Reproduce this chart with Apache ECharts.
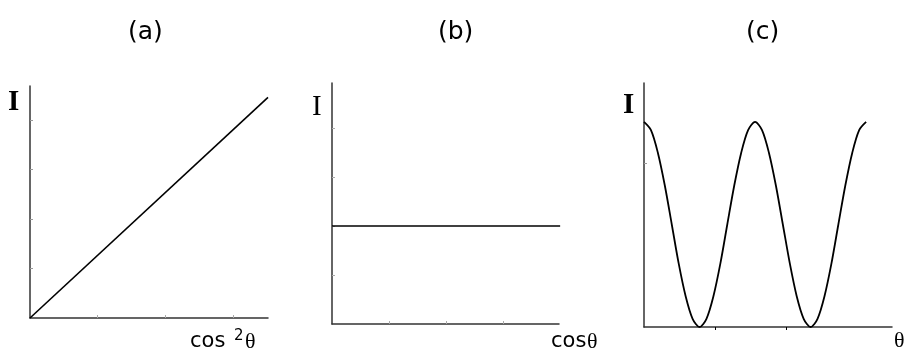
<!DOCTYPE html>
<html>
<head>
<meta charset="utf-8">
<script src="https://cdn.jsdelivr.net/npm/echarts@6/dist/echarts.min.js"></script>
<style>
  html, body { margin: 0; padding: 0; background: #fff; }
  #charts { width: 907px; height: 356px; }
</style>
</head>
<body>
<div id="charts"></div>
<script>
// (a) I ~ cos^2 theta: straight line from origin
var aX = [0, 3.52];
var aY = [0, 4.46];

// (b) I constant vs cos theta
var bX = [0, 4];
var bY = [2, 2];

// (c) I vs theta, two full periods
var cX = [0, 0.098, 0.195, 0.293, 0.391, 0.488, 0.586, 0.684, 0.782,
          0.879, 0.977, 1.075, 1.172, 1.270, 1.368, 1.465, 1.563,
          1.661, 1.758, 1.856, 1.954, 2.052, 2.149, 2.247, 2.345,
          2.442, 2.540, 2.638, 2.735, 2.833, 2.931, 3.028, 3.126];
var cY = [1, 0.96, 0.85, 0.69, 0.5, 0.31, 0.15, 0.04, 0,
          0.04, 0.15, 0.31, 0.5, 0.69, 0.85, 0.96, 1,
          0.96, 0.85, 0.69, 0.5, 0.31, 0.15, 0.04, 0,
          0.04, 0.15, 0.31, 0.5, 0.69, 0.85, 0.96, 1];

// tick marks
var aXTicks = [1, 2, 3];
var aYTicks = [1, 2, 3, 4];
var bXTicks = [1, 2, 3];
var bYTicks = [1, 2, 3, 4];
var cXTicks = [1, 2];
var cYTicks = [0.8];

function pairs(xs, ys) {
	var out = [];
	for (var i = 0; i < xs.length; i++) {
		out.push([xs[i], ys[i]]);
	}
	return out;
}

// 坐标轴公共样式
function axis(gridIndex, max, ticks, tickColor, inside) {
	return {
		type: 'value',
		gridIndex: gridIndex,
		min: 0,
		max: max,
		splitLine: { show: false },
		axisLabel: { show: false },
		axisLine: { show: true, onZero: false, lineStyle: { color: '#333', width: 1.5 } },
		axisTick: {
			show: true,
			inside: inside,
			length: 3,
			customValues: ticks,
			lineStyle: { color: tickColor, width: 1 }
		}
	};
}

var sans = '"DejaVu Sans", sans-serif';
var serif = '"Liberation Serif", "DejaVu Serif", serif';

function txt(x, y, s, size, family, weight) {
	return {
		type: 'text',
		x: x,
		y: y,
		style: {
			text: s,
			fill: '#000',
			fontSize: size,
			fontFamily: family,
			fontWeight: weight || 'normal',
			align: 'left',
			verticalAlign: 'middle'
		}
	};
}

var myChart = echarts.init(document.getElementById('charts'), null, { renderer: 'canvas' });

var option = {
	animation: false,
	backgroundColor: '#fff',
	grid: [
		{ left: 30, top: 86, width: 238, height: 232 },
		{ left: 332, top: 83, width: 227, height: 241 },
		{ left: 644, top: 83, width: 248, height: 244 }
	],
	xAxis: [
		axis(0, 3.52, aXTicks, '#aaa', true),
		axis(1, 3.98, bXTicks, '#aaa', true),
		axis(2, 3.49, cXTicks, '#000', false)
	],
	yAxis: [
		axis(0, 4.69, aYTicks, '#999', true),
		axis(1, 4.92, bYTicks, '#aaa', true),
		axis(2, 1.19, cYTicks, '#999', true)
	],
	series: [
		{
			type: 'line', xAxisIndex: 0, yAxisIndex: 0,
			data: pairs(aX, aY), showSymbol: false,
			lineStyle: { color: '#000', width: 1.6 }
		},
		{
			type: 'line', xAxisIndex: 1, yAxisIndex: 1,
			data: pairs(bX, bY), showSymbol: false,
			lineStyle: { color: '#000', width: 1.6 }
		},
		{
			type: 'line', xAxisIndex: 2, yAxisIndex: 2,
			data: pairs(cX, cY), showSymbol: false, smooth: 0.3,
			lineStyle: { color: '#000', width: 1.8 }
		}
	],
	graphic: [
		// 标题
		txt(128, 32, '(a)', 25, sans),
		txt(438, 32, '(b)', 25, sans),
		txt(746, 32, '(c)', 25, sans),
		// 纵轴 I
		txt(8, 103, 'I', 29, serif, 'bold'),
		txt(312, 107, 'I', 29, serif),
		txt(623, 106, 'I', 29, serif, 'bold'),
		// 横轴标签
		txt(190, 342, 'cos', 21, sans),
		txt(234, 336, '2', 15, sans),
		txt(245, 342, 'θ', 22, serif),
		txt(551, 342, 'cos', 21, sans),
		txt(587, 342, 'θ', 22, serif),
		txt(894, 341, 'θ', 22, serif)
	]
};

myChart.setOption(option);
</script>
</body>
</html>
